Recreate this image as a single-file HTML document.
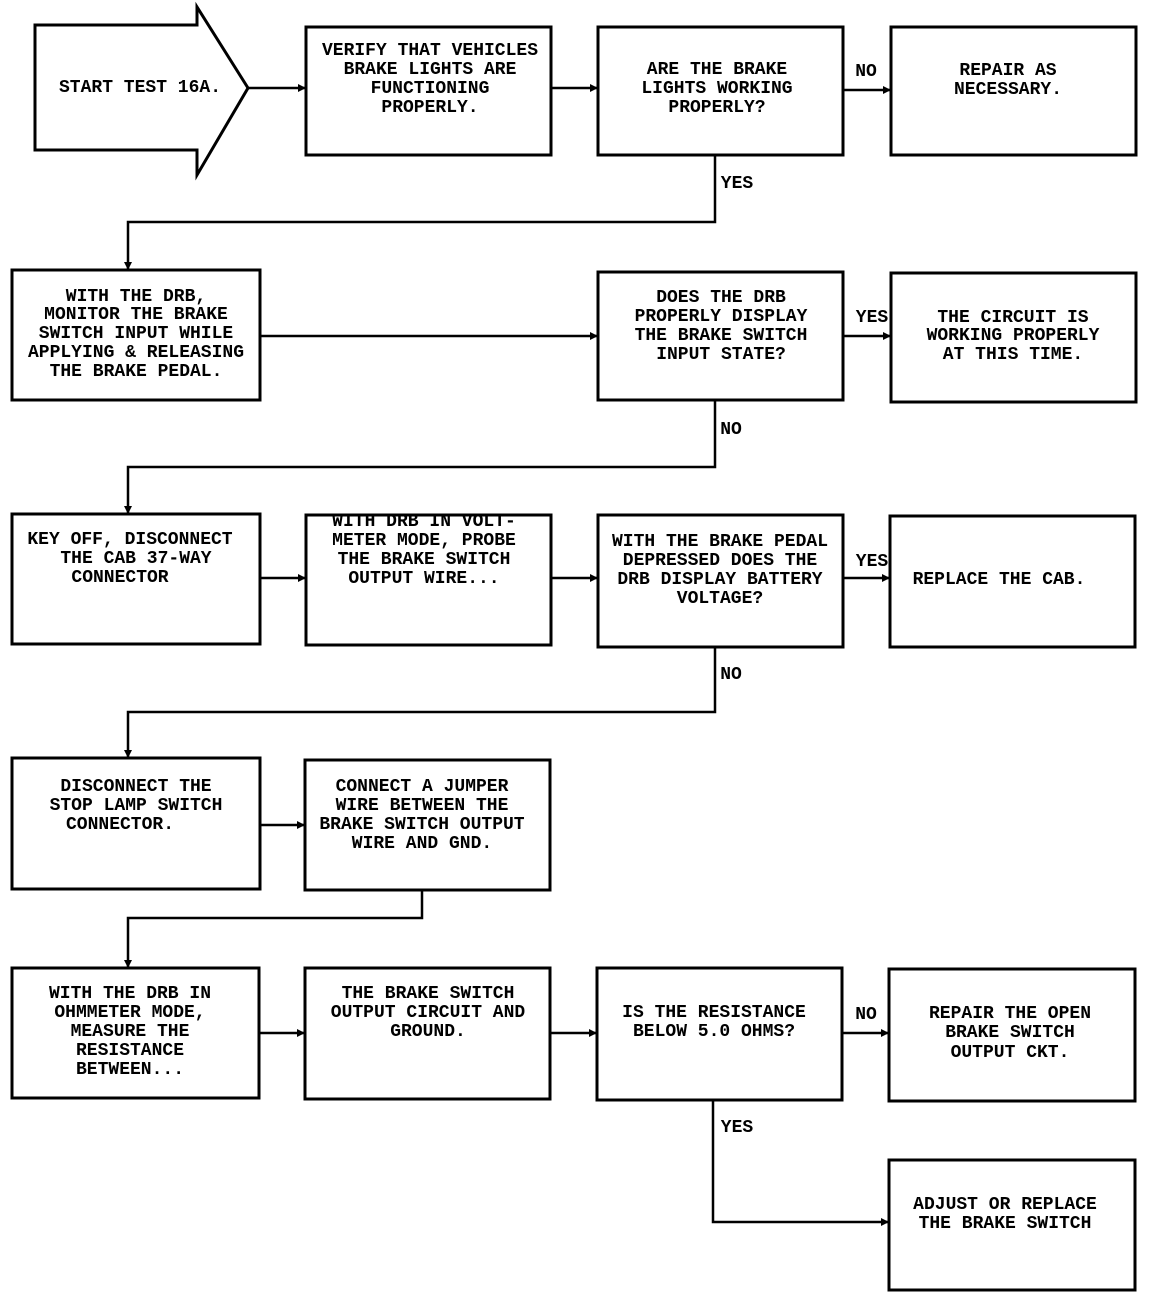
<!DOCTYPE html>
<html><head><meta charset="utf-8"><style>
html,body{margin:0;padding:0;background:#fff;}
svg{display:block;}
text{font-family:"Liberation Mono",monospace;font-size:18px;font-weight:bold;fill:#000;text-anchor:middle;dominant-baseline:central;}
</style></head><body>
<svg width="1152" height="1298" viewBox="0 0 1152 1298" xmlns="http://www.w3.org/2000/svg">
<defs><marker id="a" markerWidth="8" markerHeight="8" refX="7" refY="4" orient="auto" markerUnits="userSpaceOnUse"><path d="M0,0 L8,4 L0,8 z" fill="#000"/></marker></defs>
<g fill="none" stroke="#000" stroke-width="3">
<path d="M35,25 H197 V7 L248,88 L197,175 V150 H35 Z"/>
<rect x="306" y="27" width="245" height="128"/>
<rect x="598" y="27" width="245" height="128"/>
<rect x="891" y="27" width="245" height="128"/>
<rect x="12" y="270" width="248" height="130"/>
<rect x="598" y="272" width="245" height="128"/>
<rect x="891" y="273" width="245" height="129"/>
<rect x="12" y="514" width="248" height="130"/>
<rect x="306" y="515" width="245" height="130"/>
<rect x="598" y="515" width="245" height="132"/>
<rect x="890" y="516" width="245" height="131"/>
<rect x="12" y="758" width="248" height="131"/>
<rect x="305" y="760" width="245" height="130"/>
<rect x="12" y="968" width="247" height="130"/>
<rect x="305" y="968" width="245" height="131"/>
<rect x="597" y="968" width="245" height="132"/>
<rect x="889" y="969" width="246" height="132"/>
<rect x="889" y="1160" width="246" height="130"/>
</g>
<g fill="none" stroke="#000" stroke-width="2.5" marker-end="url(#a)">
<path d="M248,88 H305"/>
<path d="M551,88 H597"/>
<path d="M843,90 H890"/>
<path d="M715,155 V222 H128 V269"/>
<path d="M260,336 H597"/>
<path d="M843,336 H890"/>
<path d="M715,400 V467 H128 V513"/>
<path d="M260,578 H305"/>
<path d="M551,578 H597"/>
<path d="M843,578 H889"/>
<path d="M715,647 V712 H128 V757"/>
<path d="M260,825 H304"/>
<path d="M422,890 V918 H128 V967"/>
<path d="M259,1033 H304"/>
<path d="M550,1033 H596"/>
<path d="M842,1033 H888"/>
<path d="M713,1100 V1222 H888"/>
</g>
<text x="140" y="88">START TEST 16A.</text>
<text x="430" y="51">VERIFY THAT VEHICLES</text>
<text x="430" y="70">BRAKE LIGHTS ARE</text>
<text x="430" y="89">FUNCTIONING</text>
<text x="430" y="108">PROPERLY.</text>
<text x="717" y="70">ARE THE BRAKE</text>
<text x="717" y="89">LIGHTS WORKING</text>
<text x="717" y="108">PROPERLY?</text>
<text x="1008" y="71">REPAIR AS</text>
<text x="1008" y="90">NECESSARY.</text>
<text x="866" y="72">NO</text>
<text x="737" y="184">YES</text>
<text x="136" y="297">WITH THE DRB,</text>
<text x="136" y="315">MONITOR THE BRAKE</text>
<text x="136" y="334">SWITCH INPUT WHILE</text>
<text x="136" y="353">APPLYING &amp; RELEASING</text>
<text x="136" y="372">THE BRAKE PEDAL.</text>
<text x="721" y="298">DOES THE DRB</text>
<text x="721" y="317">PROPERLY DISPLAY</text>
<text x="721" y="336">THE BRAKE SWITCH</text>
<text x="721" y="355">INPUT STATE?</text>
<text x="1013" y="318">THE CIRCUIT IS</text>
<text x="1013" y="336">WORKING PROPERLY</text>
<text x="1013" y="355">AT THIS TIME.</text>
<text x="872" y="318">YES</text>
<text x="731" y="430">NO</text>
<text x="130" y="540">KEY OFF, DISCONNECT</text>
<text x="136" y="559">THE CAB 37-WAY</text>
<text x="120" y="578">CONNECTOR</text>
<text x="424" y="522">WITH DRB IN VOLT-</text>
<text x="424" y="541">METER MODE, PROBE</text>
<text x="424" y="560">THE BRAKE SWITCH</text>
<text x="424" y="579">OUTPUT WIRE...</text>
<text x="720" y="542">WITH THE BRAKE PEDAL</text>
<text x="720" y="561">DEPRESSED DOES THE</text>
<text x="720" y="580">DRB DISPLAY BATTERY</text>
<text x="720" y="599">VOLTAGE?</text>
<text x="999" y="580">REPLACE THE CAB.</text>
<text x="872" y="562">YES</text>
<text x="731" y="675">NO</text>
<text x="136" y="787">DISCONNECT THE</text>
<text x="136" y="806">STOP LAMP SWITCH</text>
<text x="120" y="825">CONNECTOR.</text>
<text x="422" y="787">CONNECT A JUMPER</text>
<text x="422" y="806">WIRE BETWEEN THE</text>
<text x="422" y="825">BRAKE SWITCH OUTPUT</text>
<text x="422" y="844">WIRE AND GND.</text>
<text x="130" y="994">WITH THE DRB IN</text>
<text x="130" y="1013">OHMMETER MODE,</text>
<text x="130" y="1032">MEASURE THE</text>
<text x="130" y="1051">RESISTANCE</text>
<text x="130" y="1070">BETWEEN...</text>
<text x="428" y="994">THE BRAKE SWITCH</text>
<text x="428" y="1013">OUTPUT CIRCUIT AND</text>
<text x="428" y="1032">GROUND.</text>
<text x="714" y="1013">IS THE RESISTANCE</text>
<text x="714" y="1032">BELOW 5.0 OHMS?</text>
<text x="1010" y="1014">REPAIR THE OPEN</text>
<text x="1010" y="1033">BRAKE SWITCH</text>
<text x="1010" y="1053">OUTPUT CKT.</text>
<text x="866" y="1015">NO</text>
<text x="737" y="1128">YES</text>
<text x="1005" y="1205">ADJUST OR REPLACE</text>
<text x="1005" y="1224">THE BRAKE SWITCH</text>
</svg>
</body></html>
